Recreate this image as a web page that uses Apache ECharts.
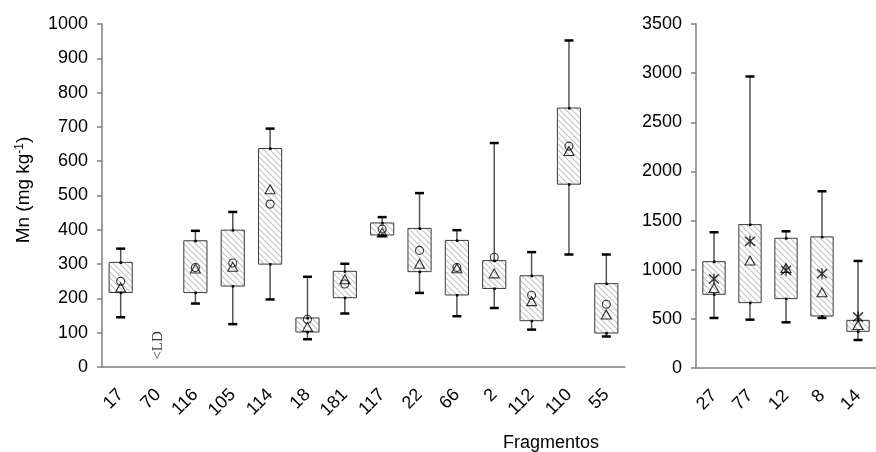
<!DOCTYPE html>
<html>
<head>
<meta charset="utf-8">
<script src="https://cdn.jsdelivr.net/npm/echarts@6/dist/echarts.min.js"></script>
<style>
  html, body { margin: 0; padding: 0; background: #fff; }
  #chart { width: 876px; height: 452px; }
</style>
</head>
<body>
<div id="chart"></div>
<script>
// Fragments, left panel (0-1000 scale)
const leftCats = ['17', '70', '116', '105', '114', '18', '181', '117', '22', '66', '2', '112', '110', '55'];
const leftLow  = [145, null, 185, 125, 197,  81, 156, 382, 216, 148, 172, 109, 328,  89];
const leftQ1   = [217, null, 217, 236, 300, 102, 202, 385, 278, 210, 229, 135, 533,  99];
const leftQ3   = [305, null, 368, 399, 637, 143, 279, 420, 404, 369, 310, 266, 755, 243];
const leftHigh = [345, null, 397, 452, 695, 263, 301, 437, 507, 399, 653, 335, 952, 328];
const leftMean   = [250, null, 290, 303, 475, 139, 242, 402, 340, 290, 320, 209, 644, 183];
const leftMedian = [232, null, 287, 292, 518, 117, 256, 392, 301, 288, 273, 192, 630, 153];
const ldCategory = '70';
const ldText = '<LD';

// Fragments, right panel (0-3500 scale)
const rightCats = ['27', '77', '12', '8', '14'];
const rightLow  = [509, 492, 465, 509, 285];
const rightQ1   = [750, 665, 706, 529, 373];
const rightQ3   = [1082, 1459, 1320, 1334, 485];
const rightHigh = [1381, 2966, 1391, 1798, 1089];
const rightMean   = [906, 1289, 994, 960, 519];
const rightMedian = [814, 1093, 1018, 770, 438];

const leftTicks = { min: 0, max: 1000, interval: 100 };
const rightTicks = { min: 0, max: 3500, interval: 500 };

// diagonal hatch used inside the boxes
function makeHatch() {
  const s = 6;
  const c = document.createElement('canvas');
  c.width = s; c.height = s;
  const g = c.getContext('2d');
  g.fillStyle = '#ffffff';
  g.fillRect(0, 0, s, s);
  g.strokeStyle = '#c4c4c4';
  g.lineWidth = 1.1;
  g.beginPath();
  g.moveTo(-1, -1); g.lineTo(s + 1, s + 1);
  g.moveTo(-1, s - 1); g.lineTo(1, s + 1);
  g.moveTo(s - 1, -1); g.lineTo(s + 1, 1);
  g.stroke();
  return c;
}
const hatch = { image: makeHatch(), repeat: 'repeat' };

function boxData(cats, lo, q1, q3, hi) {
  const out = [];
  cats.forEach((c, i) => {
    if (lo[i] == null) return;
    out.push([i, lo[i], q1[i], q3[i], hi[i]]);
  });
  return out;
}
function pointData(cats, vals) {
  const out = [];
  cats.forEach((c, i) => { if (vals[i] != null) out.push([c, vals[i]]); });
  return out;
}

function renderBox(params, api) {
  const i = api.value(0);
  const pLow = api.coord([i, api.value(1)]);
  const pQ1 = api.coord([i, api.value(2)]);
  const pQ3 = api.coord([i, api.value(3)]);
  const pHigh = api.coord([i, api.value(4)]);
  const bw = api.size([1, 0])[0] * 0.62;
  const x = pQ1[0];
  const capW = 9;
  const whisker = { stroke: '#555555', lineWidth: 1.5 };
  const cap = { stroke: '#000000', lineWidth: 2.5 };
  return {
    type: 'group',
    children: [
      { type: 'line', shape: { x1: x, y1: pLow[1], x2: x, y2: pQ1[1] }, style: whisker },
      { type: 'line', shape: { x1: x, y1: pQ3[1], x2: x, y2: pHigh[1] }, style: whisker },
      { type: 'rect', shape: { x: x - bw / 2, y: pQ3[1], width: bw, height: pQ1[1] - pQ3[1] },
        style: { fill: hatch, stroke: '#3a3a3a', lineWidth: 1 } },
      { type: 'line', shape: { x1: x - capW / 2, y1: pLow[1], x2: x + capW / 2, y2: pLow[1] }, style: cap },
      { type: 'line', shape: { x1: x - capW / 2, y1: pHigh[1], x2: x + capW / 2, y2: pHigh[1] }, style: cap },
      { type: 'rect', shape: { x: x - 1, y: pQ1[1] - 1, width: 2.5, height: 2.5 }, style: { fill: '#000' } },
      { type: 'rect', shape: { x: x - 1, y: pQ3[1] - 1, width: 2.5, height: 2.5 }, style: { fill: '#000' } }
    ]
  };
}

const font = 'Liberation Sans, Arial, sans-serif';
const axisColor = '#808080';

function xAxisOf(gridIndex, cats) {
  return {
    type: 'category', gridIndex, data: cats, boundaryGap: true,
    axisLine: { lineStyle: { color: axisColor, width: 1.5 } },
    axisTick: { alignWithLabel: false, length: 5, lineStyle: { color: axisColor, width: 1.5 } },
    axisLabel: { rotate: 45, margin: 25, color: '#000', fontSize: 18, fontFamily: font, interval: 0 },
    splitLine: { show: false }
  };
}
function yAxisOf(gridIndex, t) {
  return {
    type: 'value', gridIndex, min: t.min, max: t.max, interval: t.interval,
    axisLine: { show: true, lineStyle: { color: axisColor, width: 1.5 } },
    axisTick: { show: true, length: 5, lineStyle: { color: axisColor, width: 1.5 } },
    axisLabel: { margin: 14, color: '#000', fontSize: 18, fontFamily: font,
      formatter: v => String(v) },
    splitLine: { show: false }
  };
}

const openStyle = { color: 'rgba(0,0,0,0)', borderColor: '#000', borderWidth: 1.1 };
const starPath = 'path://M0,1L10,11M10,1L0,11M5,0L5,12';

const option = {
  backgroundColor: '#ffffff',
  animation: false,
  grid: [
    { left: 102, right: 251, top: 24, bottom: 85 },
    { left: 696, right: -7, top: 24, bottom: 84 }
  ],
  xAxis: [xAxisOf(0, leftCats), xAxisOf(1, rightCats)],
  yAxis: [yAxisOf(0, leftTicks), yAxisOf(1, rightTicks)],
  series: [
    { type: 'custom', xAxisIndex: 0, yAxisIndex: 0, renderItem: renderBox,
      encode: { x: 0, y: [1, 2, 3, 4] }, data: boxData(leftCats, leftLow, leftQ1, leftQ3, leftHigh), z: 2 },
    { type: 'custom', xAxisIndex: 1, yAxisIndex: 1, renderItem: renderBox,
      encode: { x: 0, y: [1, 2, 3, 4] }, data: boxData(rightCats, rightLow, rightQ1, rightQ3, rightHigh), z: 2 },
    { type: 'scatter', xAxisIndex: 0, yAxisIndex: 0, symbol: 'circle', symbolSize: 8,
      itemStyle: openStyle, data: pointData(leftCats, leftMean), z: 3 },
    { type: 'scatter', xAxisIndex: 0, yAxisIndex: 0, symbol: 'triangle', symbolSize: [10, 9],
      itemStyle: openStyle, data: pointData(leftCats, leftMedian), z: 4 },
    { type: 'scatter', xAxisIndex: 1, yAxisIndex: 1, symbol: starPath, symbolSize: [10, 11],
      itemStyle: { color: 'rgba(0,0,0,0)', borderColor: '#000', borderWidth: 1.4 },
      data: pointData(rightCats, rightMean), z: 4 },
    { type: 'scatter', xAxisIndex: 1, yAxisIndex: 1, symbol: 'triangle', symbolSize: [10, 9],
      itemStyle: openStyle, data: pointData(rightCats, rightMedian), z: 3 },
    // below-detection-limit note
    { type: 'scatter', xAxisIndex: 0, yAxisIndex: 0, symbolSize: 0, silent: true,
      data: [[ldCategory, 63]],
      label: { show: true, position: 'inside', formatter: ldText, rotate: 90,
        fontFamily: 'Liberation Serif, Times New Roman, serif', fontSize: 15, color: '#000' } }
  ],
  graphic: [
    { type: 'text', x: 24, y: 190, rotation: Math.PI / 2,
      style: {
        text: 'Mn (mg kg{sup|-1})', fill: '#000', fontSize: 19, fontFamily: font,
        align: 'center', verticalAlign: 'middle',
        rich: { sup: { fontSize: 12, fontFamily: font, fill: '#000', verticalAlign: 'top', padding: [0, 0, 9, 0] } }
      } },
    { type: 'text', x: 551, y: 443,
      style: { text: 'Fragmentos', fill: '#000', fontSize: 18, fontFamily: font,
        align: 'center', verticalAlign: 'middle' } }
  ]
};

const chart = echarts.init(document.getElementById('chart'), null, { renderer: 'canvas' });
chart.setOption(option);
</script>
</body>
</html>
